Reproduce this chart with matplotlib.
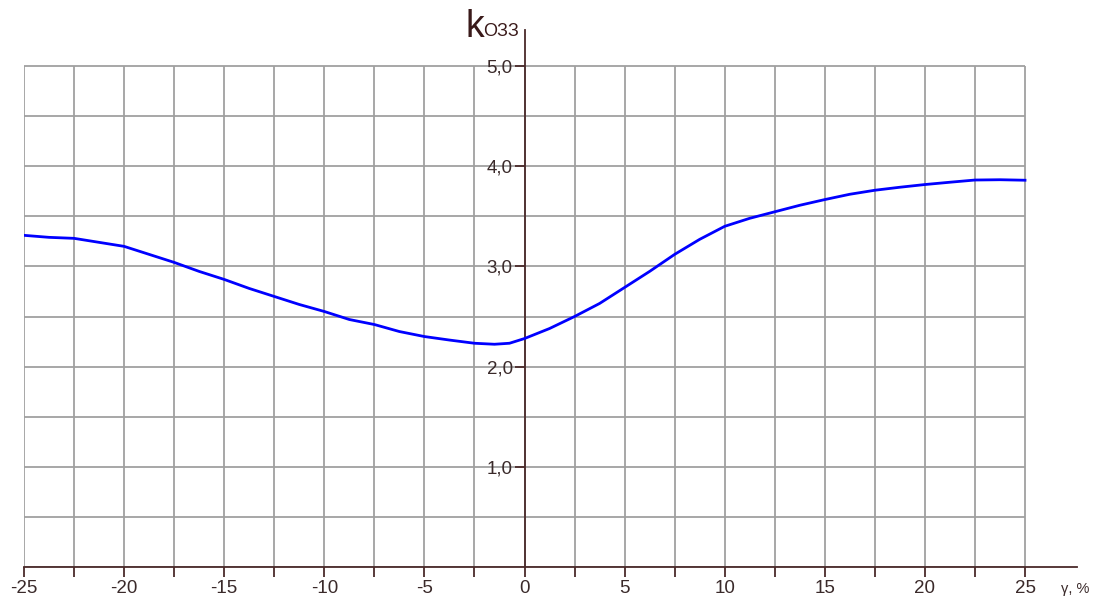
import matplotlib
matplotlib.use("Agg")
import matplotlib.pyplot as plt

# Data
gamma = [-25, -23.75, -22.5, -21.25, -20, -18.75, -17.5, -16.25, -15, -13.75,
         -12.5, -11.25, -10, -8.75, -7.5, -6.25, -5, -3.75, -2.5, -1.5, -0.75,
         0, 1.25, 2.5, 3.75, 5, 6.25, 7.5, 8.75, 10, 11.25, 12.5, 13.75, 15,
         16.25, 17.5, 18.75, 20, 21.25, 22.5, 23.75, 25]
k_ozz = [3.31, 3.29, 3.28, 3.24, 3.20, 3.12, 3.04, 2.95, 2.87, 2.78,
         2.70, 2.62, 2.55, 2.47, 2.42, 2.35, 2.30, 2.265, 2.233, 2.223, 2.233,
         2.28, 2.38, 2.50, 2.63, 2.79, 2.95, 3.12, 3.27, 3.40, 3.48, 3.545, 3.61, 3.667,
         3.72, 3.76, 3.79, 3.817, 3.84, 3.862, 3.865, 3.86]

x_grid = [-25 + 2.5 * i for i in range(21)]
y_grid = [0.5 * i for i in range(11)]
x_labeled = [-25, -20, -15, -10, -5, 0, 5, 10, 15, 20, 25]
y_labeled = [1, 2, 3, 4, 5]
y_labels = ["1,0", "2,0", "3,0", "4,0", "5,0"]

W, H = 1103, 599
fig = plt.figure(figsize=(W / 100, H / 100), dpi=100)
plt.rcParams['font.family'] = ['Liberation Sans', 'DejaVu Sans']

# axes from px 24..1077 horizontally, 30..567 vertically
x0, x1 = 24, 1077
ytop, ybot = 30, 567
ax = fig.add_axes([x0 / W, 1 - ybot / H, (x1 - x0) / W, (ybot - ytop) / H])
ppu_x = (1025 - 24) / 50.0
ppu_y = (567 - 66) / 5.0
ax.set_xlim(-25, -25 + (x1 - x0) / ppu_x)
ax.set_ylim(0, (ybot - ytop) / ppu_y)

gridc = "#a0a0a0"
axc = "#4a2a2a"
ax.vlines(x_grid, 0, 5, colors=gridc, linewidth=1.3, zorder=1)
ax.hlines(y_grid, -25, 25, colors=gridc, linewidth=1.3, zorder=1)

ax.plot(gamma, k_ozz, color="#0000ff", linewidth=2.0, zorder=3)

for s in ("top", "right"):
    ax.spines[s].set_visible(False)
ax.spines["left"].set_position(("data", 0))
ax.spines["bottom"].set_position(("data", 0))
ax.spines["left"].set_color(axc)
ax.spines["bottom"].set_color(axc)
ax.spines["left"].set_linewidth(1.3)
ax.spines["bottom"].set_linewidth(1.3)
ax.spines["left"].set_zorder(2)
ax.spines["bottom"].set_zorder(2)

ax.set_xticks(x_grid)
ax.set_xticklabels([str(int(v)) if v in x_labeled else "" for v in x_grid])
ax.set_yticks(y_labeled)
ax.set_yticklabels(y_labels)
ax.tick_params(axis="x", direction="out", length=7.5, width=1.3, color=axc,
               labelsize=13.5, labelcolor="#3a2a2a", pad=2)
ax.tick_params(axis="y", direction="out", length=7.5, width=1.3, color=axc,
               labelsize=13.5, labelcolor="#3a2a2a", pad=1)

ax.text(26.8, -0.22, "γ, %", fontsize=10.5, color="#3a2a2a", va="center", ha="left")

fig.text(465 / W, 1 - 37 / H, "k", fontsize=27, color="#3a1a1a", va="baseline", ha="left")
fig.text(483 / W, 1 - 36 / H, "ОЗЗ", fontsize=13, color="#3a1a1a", va="baseline", ha="left")

fig.savefig("out.png", dpi=100)
